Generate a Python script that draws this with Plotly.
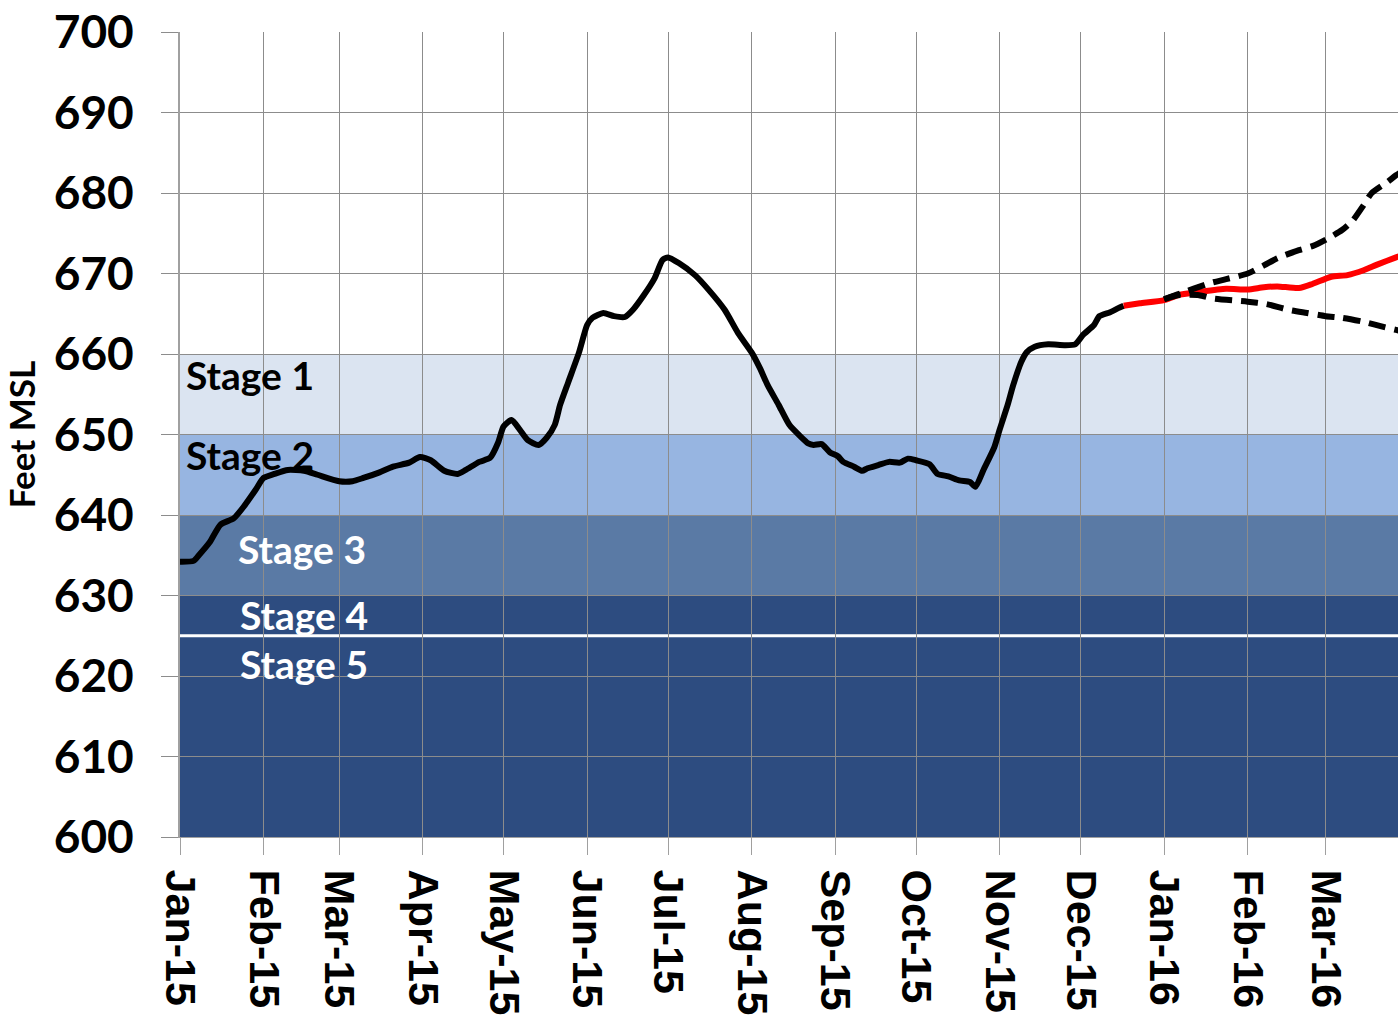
import plotly.graph_objects as go

# ---------------- data ----------------
obs_dates = ["2015-01-01","2015-01-06","2015-01-08","2015-01-12","2015-01-16","2015-01-21","2015-01-25","2015-01-29",
             "2015-02-01","2015-02-05","2015-02-10","2015-02-16","2015-02-21","2015-03-01","2015-03-06","2015-03-10",
             "2015-03-16","2015-03-21","2015-03-27","2015-03-31","2015-04-04","2015-04-09","2015-04-14","2015-04-17",
             "2015-04-22","2015-04-26","2015-04-29","2015-05-01","2015-05-04","2015-05-07","2015-05-10","2015-05-14",
             "2015-05-17","2015-05-20","2015-05-22","2015-05-25","2015-05-29","2015-06-01","2015-06-03","2015-06-07",
             "2015-06-11","2015-06-15","2015-06-18","2015-06-22","2015-06-26","2015-06-29","2015-07-01","2015-07-05",
             "2015-07-11","2015-07-16","2015-07-22","2015-07-27","2015-08-01","2015-08-04","2015-08-07","2015-08-11",
             "2015-08-15","2015-08-19","2015-08-22","2015-08-24","2015-08-27","2015-08-30","2015-09-02","2015-09-04",
             "2015-09-08","2015-09-11","2015-09-13","2015-09-17","2015-09-21","2015-09-25","2015-09-28","2015-10-01",
             "2015-10-06","2015-10-09","2015-10-13","2015-10-17","2015-10-21","2015-10-23","2015-10-26","2015-10-30",
             "2015-11-01","2015-11-04","2015-11-06","2015-11-09","2015-11-11","2015-11-14","2015-11-19","2015-11-25",
             "2015-11-29","2015-12-02","2015-12-06","2015-12-08","2015-12-12","2015-12-15","2015-12-17"]
obs_values = [634.2,634.3,635.0,636.6,638.8,639.6,641.2,643.1,
              644.6,645.1,645.6,645.5,645.0,644.2,644.2,644.6,
              645.3,646.0,646.5,647.2,646.8,645.5,645.1,645.6,
              646.6,647.1,649.0,651.0,651.8,650.6,649.3,648.7,
              649.6,651.2,653.7,656.5,660.2,663.6,664.5,665.1,
              664.7,664.6,665.5,667.3,669.4,671.7,672.0,671.3,
              669.8,668.0,665.5,662.6,660.2,658.3,656.1,653.7,
              651.2,649.8,648.9,648.7,648.8,647.8,647.3,646.6,
              646.0,645.5,645.8,646.2,646.6,646.5,647.0,646.8,
              646.3,645.1,644.8,644.3,644.1,643.5,645.6,648.4,
              650.6,653.7,656.1,659.0,660.2,660.9,661.2,661.1,
              661.2,662.4,663.6,664.7,665.2,665.7,666.0]

mid_dates = ["2015-12-17","2015-12-23","2016-01-01","2016-01-06","2016-01-14","2016-01-24","2016-02-01","2016-02-07",
             "2016-02-12","2016-02-20","2016-02-25","2016-03-03","2016-03-09","2016-03-15","2016-03-20","2016-03-27","2016-03-31"]
mid_values = [666.0,666.3,666.7,667.3,667.7,668.1,668.0,668.3,
              668.4,668.2,668.7,669.6,669.8,670.4,671.1,672.0,672.5]

high_dates = ["2016-01-01","2016-01-06","2016-01-18","2016-01-24","2016-02-01","2016-02-07","2016-02-12","2016-02-20",
              "2016-02-25","2016-03-01","2016-03-07","2016-03-11","2016-03-15","2016-03-18","2016-03-24","2016-03-27","2016-03-31"]
high_values = [666.8,667.4,668.8,669.3,670.0,671.0,671.9,672.9,
               673.4,674.2,675.4,676.6,678.5,680.0,681.4,682.2,683.0]

low_dates = ["2016-01-01","2016-01-06","2016-01-14","2016-01-19","2016-02-01","2016-02-08","2016-02-16","2016-02-23",
             "2016-03-01","2016-03-07","2016-03-15","2016-03-22","2016-03-27","2016-03-31"]
low_values = [666.8,667.3,667.3,666.9,666.5,666.2,665.5,665.1,
              664.7,664.5,664.0,663.4,663.0,662.7]

stage_names = ["Stage 1", "Stage 2", "Stage 3", "Stage 4", "Stage 5"]
stage_tops = [660, 650, 640, 630, 625]
stage_bottoms = [650, 640, 630, 625, 600]
stage_colors = ["#DBE4F1", "#97B5E1", "#5A7AA5", "#2D4C80", "#2D4C80"]
stage_label_colors = ["black", "black", "white", "white", "white"]
stage_label_y = [657.4, 647.5, 635.8, 627.6, 621.5]
stage_label_x = [0.003, 0.003, 0.046, 0.048, 0.048]

tick_dates = ["2015-01-01","2015-02-01","2015-03-01","2015-04-01","2015-05-01","2015-06-01","2015-07-01",
              "2015-08-01","2015-09-01","2015-10-01","2015-11-01","2015-12-01","2016-01-01","2016-02-01","2016-03-01"]
tick_labels = ["Jan-15","Feb-15","Mar-15","Apr-15","May-15","Jun-15","Jul-15","Aug-15","Sep-15","Oct-15",
               "Nov-15","Dec-15","Jan-16","Feb-16","Mar-16"]
y_ticks = [600, 610, 620, 630, 640, 650, 660, 670, 680, 690, 700]

# ---------------- figure ----------------
fig = go.Figure()

shapes = []
for top, bot, col in zip(stage_tops, stage_bottoms, stage_colors):
    shapes.append(dict(type="rect", xref="paper", yref="y", x0=0, x1=1, y0=bot, y1=top,
                       fillcolor=col, line=dict(width=0), layer="below"))
shapes.append(dict(type="line", xref="paper", yref="y", x0=0, x1=1, y0=625, y1=625,
                   line=dict(color="white", width=3), layer="below"))

fig.add_trace(go.Scatter(x=obs_dates, y=obs_values, mode="lines",
                         line=dict(color="black", width=6, shape="spline", smoothing=0.6)))
fig.add_trace(go.Scatter(x=mid_dates, y=mid_values, mode="lines",
                         line=dict(color="#FF0000", width=6, shape="spline", smoothing=0.6)))
fig.add_trace(go.Scatter(x=high_dates, y=high_values, mode="lines",
                         line=dict(color="black", width=6, dash="17px,9px", shape="spline", smoothing=0.6)))
fig.add_trace(go.Scatter(x=low_dates, y=low_values, mode="lines",
                         line=dict(color="black", width=6, dash="17px,9px", shape="spline", smoothing=0.6)))

annotations = []
for name, ly, lx, lc in zip(stage_names, stage_label_y, stage_label_x, stage_label_colors):
    annotations.append(dict(text=name, x=lx, xref="paper", y=ly, yref="y", xanchor="left", yanchor="middle",
                            showarrow=False, font=dict(family="Lato", size=39, color=lc, weight="bold")))

fig.update_layout(
    width=1398, height=1029,
    margin=dict(l=180, r=0, t=32, b=192),
    plot_bgcolor="white", paper_bgcolor="white",
    showlegend=False,
    shapes=shapes, annotations=annotations,
    xaxis=dict(type="date", range=["2015-01-01", "2016-03-27 18:00"],
               tickvals=tick_dates, ticktext=tick_labels, tickangle=90,
               tickfont=dict(family="Liberation Sans", size=43, color="black", weight="bold"),
               showgrid=True, gridcolor="#8C8C8C", gridwidth=1,
               ticks="outside", ticklen=17, tickcolor="#A0A0A0", ticklabelstandoff=6,
               showline=True, linecolor="#A0A0A0", linewidth=1, zeroline=False),
    yaxis=dict(range=[600, 700], tickvals=y_ticks,
               tickfont=dict(family="Lato", size=46, color="black", weight="bold"),
               showgrid=True, gridcolor="#8C8C8C", gridwidth=1,
               ticks="outside", ticklen=17, tickcolor="#8C8C8C", ticklabelstandoff=18,
               showline=True, linecolor="#A0A0A0", linewidth=2, zeroline=False,
               title=dict(text="Feet MSL", font=dict(family="Lato", size=35, color="black", weight="bold"),
                          standoff=12)),
)

fig.write_html("out.html", config={"displayModeBar": False},
               post_script="document.body.style.margin='0';document.body.style.overflow='hidden';"
                           "Plotly.relayout('{plot_id}',{width:1398,height:1029});")
